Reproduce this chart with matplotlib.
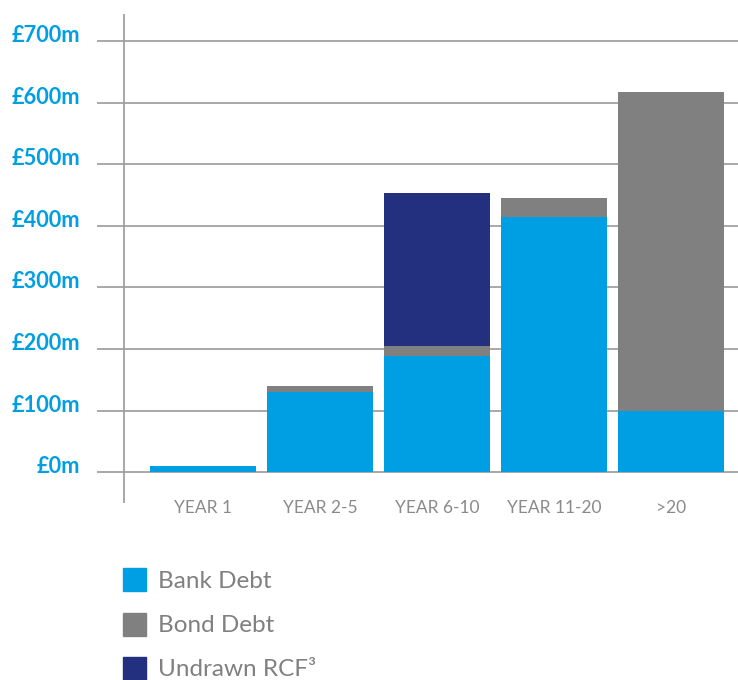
import matplotlib.pyplot as plt
import matplotlib.transforms as mtransforms
from matplotlib.patches import Rectangle

categories = ["YEAR 1", "YEAR 2-5", "YEAR 6-10", "YEAR 11-20", ">20"]
bank_debt = [10, 130, 189, 415, 100]
bond_debt = [0, 10, 16, 31, 518]
undrawn_rcf = [0, 0, 249, 0, 0]
series_names = ["Bank Debt", "Bond Debt", "Undrawn RCF³"]
yticks = [0, 100, 200, 300, 400, 500, 600, 700]
ytick_labels = ["£0m", "£100m", "£200m", "£300m", "£400m", "£500m", "£600m", "£700m"]

blue = "#009FE3"
grey = "#808080"
navy = "#22307F"
text_grey = "#8a8a8a"

plt.rcParams['font.family'] = ['Lato', 'DejaVu Sans']

fig = plt.figure(figsize=(7.38, 6.8), dpi=100)
ax = fig.add_axes([97 / 738, (680 - 503) / 680, 641 / 738, 489 / 680])

x = list(range(len(categories)))
w = 0.906
bottom2 = [a + b for a, b in zip(bank_debt, bond_debt)]
ax.bar(x, bank_debt, width=w, color=blue, zorder=3)
ax.bar(x, bond_debt, width=w, bottom=bank_debt, color=grey, zorder=3)
ax.bar(x, undrawn_rcf, width=w, bottom=bottom2, color=navy, zorder=3)

ax.set_xlim(-0.906, 4.573)
ax.set_ylim(-50.4, 744.7)

for t in yticks:
    ax.axhline(t, color="#9a9a9a", lw=1.2, zorder=1)
ax.axvline(-0.675, color="#9a9a9a", lw=1.2, zorder=1)

for s in ax.spines.values():
    s.set_visible(False)

ax.set_xticks([])
ax.set_yticks(yticks)
ax.set_yticklabels(ytick_labels, fontsize=15.7, fontweight="bold", color=blue)
ax.tick_params(axis="y", length=0, pad=12)
offset = mtransforms.ScaledTranslation(0, 0.075, fig.dpi_scale_trans)
for lab in ax.get_yticklabels():
    lab.set_transform(lab.get_transform() + offset)

for i, c in enumerate(categories):
    ax.text(i, -59, c, ha="center", va="center", fontsize=12.5, color=text_grey)

# legend
colors = [blue, grey, navy]
for k, (name, col) in enumerate(zip(series_names, colors)):
    ytop = 568 + k * 44.5
    fig.patches.append(Rectangle((123 / 738, (680 - ytop - 23) / 680), 23 / 738, 23 / 680,
                                 transform=fig.transFigure, color=col))
    fig.text(158 / 738, (680 - ytop - 13) / 680, name, fontsize=17.5, color=grey,
             va="center", ha="left")

fig.savefig("out.png", dpi=100)
